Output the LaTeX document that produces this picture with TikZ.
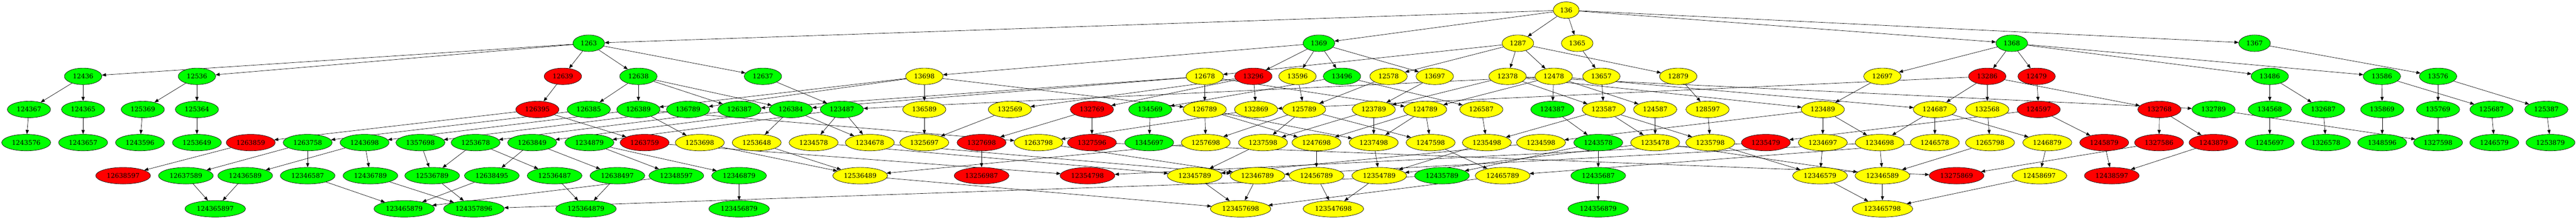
\documentclass[tikz,border=0pt]{standalone}
\usepackage{fontspec}
\setmainfont{DejaVu Serif}
\usetikzlibrary{shapes.geometric,arrows.meta}
\pgfdeclarelayer{bg}
\pgfsetlayers{bg,main}
\definecolor{gC}{RGB}{0,255,0}
\definecolor{yC}{RGB}{255,255,0}
\definecolor{rC}{RGB}{255,0,0}
\begin{document}
\begin{tikzpicture}[x=0.75pt,y=1pt,
  gv/.style={ellipse,draw=black,line width=0.75pt,minimum height=36pt,inner xsep=6.5pt,inner ysep=0pt,font=\fontsize{14}{16}\selectfont},
  edge/.style={draw=black,line width=0.75pt,-{Triangle[length=9pt,width=7pt]}}]
\useasboundingbox (0,0) rectangle (7469,476);
% row 0
\node[gv,fill=yC] (n136) at (4541,454) {136};
% row 1
\foreach \l/\x/\c in {1263/1707/gC,1369/3824/gC,1287/4401/yC,1365/4573/yC,1368/5833/gC,1367/6537/gC}
  \node[gv,fill=\c] (n\l) at (\x,382) {\l};
% row 2
\foreach \l/\x/\c in {12436/241/gC,12536/571/gC,12639/1632/rC,12638/1851/gC,12637/2212/gC,13698/2680/yC,12678/3493/yC,13296/3634/rC,13596/3762/yC,13496/3891/gC,12578/4026/yC,13697/4160/yC,12378/4371/yC,12478/4505/yC,13657/4643/yC,12879/4866/yC,12697/5458/yC,13286/5762/rC,12479/5905/rC,13486/6581/gC,13586/6906/gC,13576/7069/gC}
  \node[gv,fill=\c] (n\l) at (\x,310) {\l};
% row 3
\foreach \l/\x/\c in {124367/84/gC,124365/241/gC,125369/414/gC,125364/571/gC,126395/1558/rC,126385/1707/gC,126389/1851/gC,136789/1995/gC,126387/2144/gC,126384/2293/gC,123487/2441/gC,136589/2680/yC,132569/2928/yC,132769/3166/rC,134569/3335/gC,126789/3493/yC,132869/3642/yC,125789/3781/yC,123789/3983/yC,124789/4132/yC,126587/4295/yC,124387/4501/gC,123587/4650/yC,124587/4799/yC,128597/4951/yC,123489/5285/yC,124687/5610/yC,132568/5762/yC,124597/5911/rC,132768/6261/rC,132789/6418/gC,134568/6581/gC,132687/6736/gC,135869/6907/gC,135769/7069/gC,125687/7224/gC,125387/7383/gC}
  \node[gv,fill=\c] (n\l) at (\x,238) {\l};
% row 4
\foreach \l/\x/\c in {1243576/76/gC,1243657/241/gC,1243596/406/gC,1253649/571/gC,1263859/727/rC,1263758/892/gC,1243698/1057/gC,1357698/1219/gC,1253678/1379/gC,1263849/1543/gC,1234879/1709/gC,1263759/1869/rC,1253698/2029/yC,1253648/2194/yC,1234578/2359/yC,1234678/2522/yC,1325697/2680/yC,1327698/2846/rC,1263798/3011/yC,1327596/3166/rC,1345697/3332/gC,1257698/3496/yC,1237598/3662/yC,1247698/3817/yC,1237498/3983/yC,1247598/4148/yC,1235498/4311/yC,1234598/4468/yC,1243578/4634/gC,1235478/4799/yC,1235798/4959/yC,1235479/5120/rC,1234697/5285/yC,1234698/5450/yC,1246578/5610/yC,1265798/5770/yC,1246879/5936/yC,1245879/6101/rC,1327586/6260/rC,1243879/6418/rC,1245697/6581/gC,1326578/6744/gC,1348596/6907/gC,1327598/7069/gC,1246579/7232/gC,1253879/7395/gC}
  \node[gv,fill=\c] (n\l) at (\x,166) {\l};
% row 5
\foreach \l/\x/\c in {12638597/357/rC,12637589/539/gC,12436589/711/gC,12346587/892/gC,12436789/1074/gC,12536789/1253/gC,12638495/1426/gC,12536487/1608/gC,12638497/1790/gC,12348597/1961/gC,12346879/2143/gC,12536489/2494/yC,13256987/2846/rC,12354798/3153/rC,12345789/3464/yC,12346789/3646/yC,12456789/3817/yC,12354789/3999/yC,12435789/4181/gC,12465789/4357/yC,12435687/4634/gC,12346579/5277/yC,12346589/5458/yC,13275869/5673/rC,12458697/5913/yC,12438597/6123/rC}
  \node[gv,fill=\c] (n\l) at (\x,94) {\l};
% row 6
\foreach \l/\x/\c in {124365897/624/gC,123465879/1172/gC,124357896/1374/gC,125364879/1699/gC,123456879/2143/gC,123457698/3597/yC,123547698/3866/yC,124356879/4634/gC,123465798/5458/yC}
  \node[gv,fill=\c] (n\l) at (\x,22) {\l};
\begin{pgfonlayer}{bg}
\foreach \a/\b in {136/1263,136/1369,136/1287,136/1365,136/1368,136/1367,
 1263/12436,1263/12536,1263/12639,1263/12638,1263/12637,1369/13698,1369/13296,1369/13596,1369/13496,1369/13697,1287/12678,1287/12578,1287/12378,1287/12478,1287/12879,1365/13657,1368/12697,1368/13286,1368/12479,1368/13486,1368/13586,1367/13576,
 12436/124367,12436/124365,12536/125369,12536/125364,12639/126395,12638/126385,12638/126389,12638/126387,12638/126384,12637/123487,13698/126389,13698/136789,13698/136589,13698/126789,12678/126387,12678/126384,12678/126789,12678/124789,13296/132569,13296/132769,13296/132869,13596/125789,13496/134569,13496/126587,12578/125789,13697/123789,12378/123789,12378/123587,12378/123489,12378/132789,12478/123487,12478/124387,12478/124587,12478/124789,12478/124687,13657/123587,12879/128597,12697/123489,13286/132869,13286/124687,13286/132568,13286/132768,12479/124597,13486/134568,13486/132687,13586/135869,13586/125687,13576/135769,13576/125387,
 124367/1243576,124365/1243657,125369/1243596,125364/1253649,126395/1263859,126395/1263759,126385/1263758,126389/1243698,126389/1253698,126389/1263798,136789/1357698,126387/1253678,126384/1263849,126384/1253648,126384/1234678,123487/1234879,123487/1234578,123487/1234678,136589/1325697,132569/1325697,132769/1327698,132769/1327596,134569/1345697,126789/1257698,126789/1247698,126789/1237498,132869/1263798,125789/1257698,125789/1237598,125789/1247598,123789/1237498,123789/1237598,124789/1247698,124789/1237498,124789/1247598,126587/1235498,124387/1243578,123587/1235498,123587/1235478,123587/1235798,124587/1235478,128597/1235798,123489/1234598,123489/1234697,123489/1234698,124687/1234698,124687/1246578,124687/1246879,132568/1265798,124597/1235479,124597/1245879,132768/1327586,132768/1243879,134568/1245697,132687/1326578,135869/1348596,135769/1327598,132789/1327598,125687/1246579,125387/1253879,
 1263859/12638597,1263758/12637589,1263758/12346587,1243698/12436589,1243698/12436789,1357698/12536789,1253678/12536789,1253678/12536487,1263849/12638495,1263849/12638497,1234879/12348597,1234879/12346879,1253698/12536489,1253648/12536489,1257698/12536489,1327698/13256987,1263759/12354798,1235479/12354798,1237598/12345789,1234578/12345789,1234598/12345789,1234678/12346789,1263798/12346789,1234698/12346789,1247698/12456789,1237498/12354789,1235498/12354789,1235478/12354789,1243578/12435789,1243578/12435687,1246578/12465789,1247598/12465789,1234697/12346579,1235798/12346579,1234698/12346589,1265798/12346589,1235478/12346589,1327586/13275869,1327596/13275869,1246879/12458697,1245879/12438597,1243879/12438597,
 12637589/124365897,12436589/124365897,12346587/123465879,12638495/123465879,12348597/123465879,12436789/124357896,12536789/124357896,12435789/124357896,12536487/125364879,12638497/125364879,12346879/123456879,12345789/123457698,12346789/123457698,12536489/123457698,12465789/123457698,12456789/123547698,12354789/123547698,12435687/124356879,12346579/123465798,12346589/123465798,12458697/123465798}
  \draw[edge] (n\a) -- (n\b);
\end{pgfonlayer}
\end{tikzpicture}
\end{document}
